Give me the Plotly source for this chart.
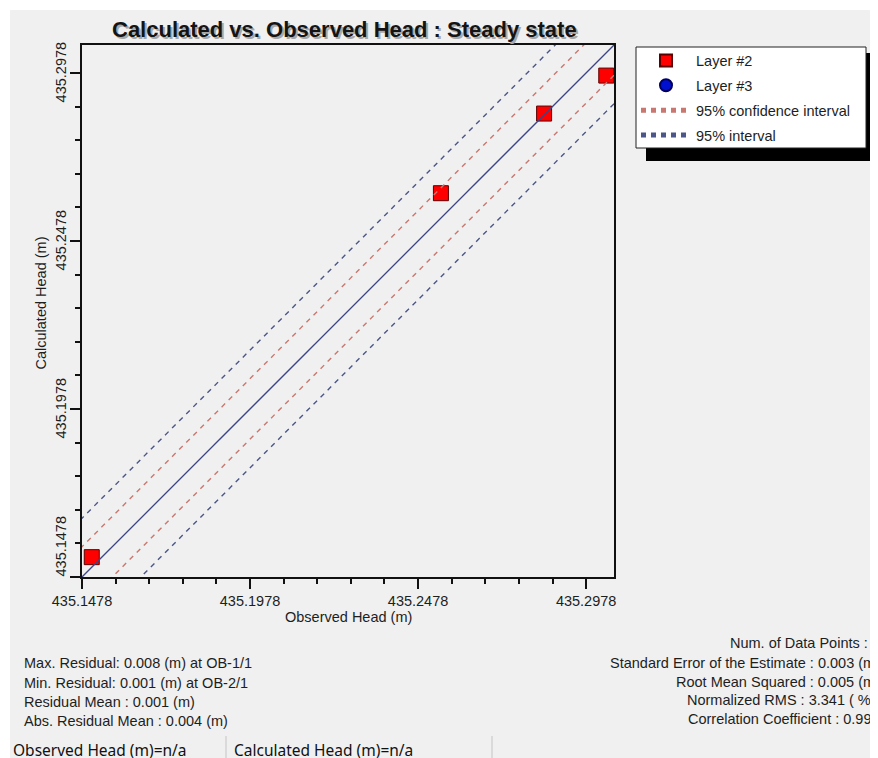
import plotly.graph_objects as go

# ---------------- data ----------------
obs_layer2 = [435.1507, 435.2546, 435.2853, 435.3038]
calc_layer2 = [435.1537, 435.2620, 435.2857, 435.2970]
axis_min = 435.1478
axis_max = 435.3061
conf_half = 0.009      # 95% confidence interval half-width
pred_half = 0.0175     # 95% interval half-width
tick_vals = [435.1478, 435.1978, 435.2478, 435.2978]
tick_text = ["435.1478", "435.1978", "435.2478", "435.2978"]

title_text = "Calculated vs. Observed Head : Steady state"
left_stats = [
    "Max. Residual: 0.008 (m) at OB-1/1",
    "Min. Residual: 0.001 (m) at OB-2/1",
    "Residual Mean : 0.001 (m)",
    "Abs. Residual Mean : 0.004 (m)",
]
right_stats = [
    "Num. of Data Points : 4",
    "Standard Error of the Estimate : 0.003 (m)",
    "Root Mean Squared : 0.005 (m)",
    "Normalized RMS : 3.341 ( % )",
    "Correlation Coefficient : 0.997",
]
status_texts = ["Observed Head (m)=n/a", "Calculated Head (m)=n/a"]

# ---------------- geometry (page pixels; page body has an 8px margin) ----------------
OFF = 8
FW, FH = 878, 758
L, T, W, H = 82 - OFF, 45 - OFF, 532, 532
R = FW - L - W
B = FH - T - H


def px(x):
    return (x - OFF - L) / W


def py(y):
    return 1 - (y - OFF - T) / H


FONT = "Arial, Liberation Sans, sans-serif"
TXT = "#1e1e1e"

fig = go.Figure()

ext = 0.03
lx = [axis_min - ext, axis_max + ext]
DASH = "5px,5px"

fig.add_trace(go.Scatter(x=obs_layer2, y=calc_layer2, mode="markers", name="Layer #2",
                         marker=dict(symbol="square", size=15, color="#ff0000",
                                     line=dict(color="#5a0000", width=1)),
                         legendgroup="a"))
fig.add_trace(go.Scatter(x=[None], y=[None], mode="markers", name="Layer #3",
                         marker=dict(symbol="circle", size=12, color="#0010d0",
                                     line=dict(color="#000060", width=1)),
                         legendgroup="b"))
fig.add_trace(go.Scatter(x=lx, y=[v + conf_half for v in lx], mode="lines",
                         name="95% confidence interval",
                         line=dict(color="#c87870", width=1.4, dash=DASH),
                         legendgroup="c"))
fig.add_trace(go.Scatter(x=lx, y=[v - conf_half for v in lx], mode="lines",
                         showlegend=False,
                         line=dict(color="#c87870", width=1.4, dash=DASH),
                         legendgroup="c"))
fig.add_trace(go.Scatter(x=lx, y=[v + pred_half for v in lx], mode="lines",
                         name="95% interval",
                         line=dict(color="#4c5688", width=1.4, dash=DASH),
                         legendgroup="d"))
fig.add_trace(go.Scatter(x=lx, y=[v - pred_half for v in lx], mode="lines",
                         showlegend=False,
                         line=dict(color="#4c5688", width=1.4, dash=DASH),
                         legendgroup="d"))
fig.add_trace(go.Scatter(x=lx, y=lx, mode="lines", showlegend=False,
                         line=dict(color="#3c4585", width=1.3)))

axis_common = dict(
    range=[axis_min, axis_max],
    tickmode="array", tickvals=tick_vals, ticktext=tick_text,
    ticks="outside", ticklen=10, tickwidth=1.5, tickcolor="#111",
    minor=dict(dtick=0.01, tick0=axis_min, ticks="outside", ticklen=5,
               tickwidth=1.5, tickcolor="#111"),
    showline=True, linecolor="#111", linewidth=2, mirror=True,
    showgrid=False, zeroline=False,
    tickfont=dict(family=FONT, size=14.5, color=TXT),
    fixedrange=True,
)
fig.update_xaxes(**axis_common)
fig.update_yaxes(**axis_common, showticklabels=False)

shapes = [
    # window background
    dict(type="rect", xref="paper", yref="paper", x0=px(10), x1=px(FW + 40),
         y0=py(10), y1=py(FH + 40), fillcolor="#f0f0f0", line_width=0, layer="below"),
    # legend shadow
    dict(type="rect", xref="paper", yref="paper", x0=px(646), x1=px(FW + 40),
         y0=py(53), y1=py(161), fillcolor="#000000", line_width=0, layer="below"),
    # legend box
    dict(type="rect", xref="paper", yref="paper", x0=px(636), x1=px(866),
         y0=py(47), y1=py(148), fillcolor="#ffffff",
         line=dict(color="#222", width=1), layer="below"),
    # status bar separators
    dict(type="line", xref="paper", yref="paper", x0=px(226), x1=px(226),
         y0=py(736), y1=py(FH + 20), line=dict(color="#c4c4c4", width=1), layer="below"),
    dict(type="line", xref="paper", yref="paper", x0=px(492), x1=px(492),
         y0=py(736), y1=py(FH + 20), line=dict(color="#c4c4c4", width=1), layer="below"),
]

ann = []
# title with shadow
ann.append(dict(text="<b>" + title_text + "</b>", x=px(346), y=py(31.5),
                xref="paper", yref="paper", showarrow=False, xanchor="center",
                yanchor="middle", font=dict(family=FONT, size=22, color="#a8a8a8")))
ann.append(dict(text="<b>" + title_text + "</b>", x=px(344.5), y=py(30),
                xref="paper", yref="paper", showarrow=False, xanchor="center",
                yanchor="middle", font=dict(family=FONT, size=22, color="#141414")))
# y tick labels (rotated); the lowest one is lifted off the corner as in the reference
for v, t in zip(tick_vals, tick_text):
    ann.append(dict(text=t, x=px(60.5), y=v, xref="paper", yref="y", showarrow=False,
                    xanchor="center", yanchor="middle", textangle=-90,
                    yshift=30 if v == tick_vals[0] else 0,
                    font=dict(family=FONT, size=14.5, color=TXT)))
# axis titles
ann.append(dict(text="Observed Head (m)", x=px(348), y=py(617), xref="paper", yref="paper",
                showarrow=False, xanchor="center", yanchor="middle",
                font=dict(family=FONT, size=14.5, color=TXT)))
ann.append(dict(text="Calculated Head (m)", x=px(40.5), y=py(303), xref="paper",
                yref="paper", showarrow=False, xanchor="center", yanchor="middle",
                textangle=-90, font=dict(family=FONT, size=14.5, color=TXT)))
# stats
for s, yy in zip(left_stats, [663.3, 682.7, 701.7, 720.7]):
    ann.append(dict(text=s, x=px(22), y=py(yy), xref="paper", yref="paper",
                    showarrow=False, xanchor="left", yanchor="middle",
                    font=dict(family=FONT, size=14.5, color=TXT)))
for s, yy in zip(right_stats, [642.7, 662.7, 681.7, 700.3, 719.3]):
    ann.append(dict(text=s, x=px(882), y=py(yy), xref="paper", yref="paper",
                    showarrow=False, xanchor="right", yanchor="middle",
                    font=dict(family=FONT, size=14.5, color=TXT)))
# status bar
for s, xx in zip(status_texts, [11, 232]):
    ann.append(dict(text=s, x=px(xx), y=py(749.5), xref="paper", yref="paper",
                    showarrow=False, xanchor="left", yanchor="middle",
                    font=dict(family="Noto Sans, Open Sans, sans-serif", size=15.5,
                              color="#111")))

fig.update_layout(
    width=FW, height=FH,
    margin=dict(l=L, r=R, t=T, b=B, pad=0),
    paper_bgcolor="#ffffff", plot_bgcolor="#ffffff",
    showlegend=True,
    legend=dict(x=px(636), y=py(44.5), xref="paper", yref="paper", xanchor="left",
                yanchor="top", bgcolor="rgba(0,0,0,0)", borderwidth=0,
                font=dict(family=FONT, size=14.5, color=TXT),
                itemwidth=50, itemsizing="constant", tracegroupgap=3,
                traceorder="grouped"),
    shapes=shapes, annotations=ann,
)

fig.write_html("out.html")
